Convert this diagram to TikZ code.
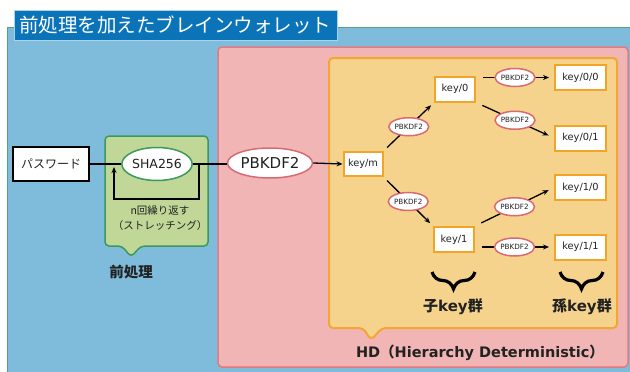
\documentclass[tikz,border=0pt]{standalone}
\usepackage{fontspec}
\setmainfont{DejaVu Sans}
\newfontfamily\cjk{Noto Sans CJK JP}
\usetikzlibrary{shapes.geometric,arrows.meta,decorations.pathreplacing}
\definecolor{bluefill}{HTML}{7FBCDC}
\definecolor{blueborder}{HTML}{5A9F7C}
\definecolor{titlefill}{HTML}{0B74B8}
\definecolor{titleborder}{HTML}{A8D4E8}
\definecolor{pinkfill}{HTML}{F2B5B5}
\definecolor{pinkborder}{HTML}{E37A80}
\definecolor{orangefill}{HTML}{F6D38D}
\definecolor{orangeborder}{HTML}{F1A732}
\definecolor{greenfill}{HTML}{C0D797}
\definecolor{greenborder}{HTML}{3A9A5C}
\definecolor{pbborder}{HTML}{DA6A72}
\definecolor{keyborder}{HTML}{F0A526}
\definecolor{txt}{HTML}{222222}
\newcommand\fsz[1]{\fontsize{#1pt}{#1pt}\selectfont}
\begin{document}
\begin{tikzpicture}[x=1pt,y=-1pt,
  bluepanel/.style={fill=bluefill,draw=blueborder,line width=1pt},
  pinkpanel/.style={fill=pinkfill,draw=pinkborder,line width=1.5pt,rounded corners=4pt},
  orangepanel/.style={fill=orangefill,draw=orangeborder,line width=2pt,rounded corners=4pt},
  greenpanel/.style={fill=greenfill,draw=greenborder,line width=1.5pt,rounded corners=4pt},
  titlebox/.style={fill=titlefill,draw=titleborder,line width=0.8pt,text=white,minimum width=323pt,minimum height=30pt,inner sep=0pt,font=\cjk\fsz{19.5}},
  pwbox/.style={draw=black,line width=1.5pt,fill=white,minimum width=76pt,minimum height=34pt,inner sep=0pt,font=\cjk\fsz{12},text=txt},
  shaell/.style={ellipse,draw=greenborder,line width=1.5pt,fill=white,minimum width=66pt,minimum height=33pt,inner sep=0pt,font=\fsz{12.5},text=txt},
  pbbig/.style={ellipse,draw=pbborder,line width=1.5pt,fill=white,minimum width=85pt,minimum height=30pt,inner sep=0pt,font=\fsz{15},text=txt},
  pbsmall/.style={ellipse,draw=pbborder,line width=1.5pt,fill=white,minimum width=38pt,minimum height=18pt,inner sep=0pt,font=\fsz{7.2},text=txt},
  keybox/.style={draw=keyborder,line width=2pt,fill=white,minimum height=25pt,inner sep=0pt,font=\fsz{9.8},text=txt},
  arr/.style={line width=1.3pt,-{Stealth[length=6pt,width=5pt]}},
  plain/.style={line width=1.3pt},
  bracestyle/.style={line width=3.2pt,decorate,decoration={brace,mirror,amplitude=17pt}},
  lbl/.style={inner sep=0pt,text=txt}]
\useasboundingbox (0,0) rectangle (630,372);
\clip (0,0) rectangle (630,372);
\fill[white] (0,0) rectangle (630,372);
% panels
\draw[bluepanel] (7,27) rectangle (650,390);
\node[titlebox] (title) at (175.5,25) {前処理を加えたブレインウォレット};
\draw[pinkpanel] (218,47) rectangle (628,367);
\draw[orangepanel] (329,58) -- (617,58) -- (617,328) -- (382,328) -- (371,340) -- (363,328) -- (329,328) -- cycle;
\draw[greenpanel] (105,136) -- (208,136) -- (208,246) -- (141,246) -- (131,257) -- (122,246) -- (105,246) -- cycle;
% left nodes
\node[pwbox] (pw) at (51,164) {パスワード};
\node[shaell] (sha) at (157,164) {SHA256};
\node[pbbig] (pbk) at (270,163) {PBKDF2};
\node[lbl,font=\cjk\fsz{10.5}] (rep) at (160,210) {n回繰り返す};
\node[lbl,font=\cjk\fsz{10.5}] (str) at (160,226) {（ストレッチング）};
\node[lbl,font=\cjk\bfseries\fsz{14.5}] (pre) at (131,272) {前処理};
% loop
\coordinate (loopR) at (199,199);
\coordinate (loopL) at (114,199);
\coordinate (loopEnd) at (114,167);
\draw[plain] (pw.east) -- (sha.west);
\draw[plain] (sha.east) -- (pbk.west |- sha.east);
\draw[arr] (sha.east) -| (loopR) -- (loopL) -- (loopEnd);
% key nodes
\node[keybox,minimum width=39pt,minimum height=24pt] (km) at (363,164) {key/m};
\node[keybox,minimum width=40pt] (k0) at (455,89) {key/0};
\node[keybox,minimum width=40pt] (k1) at (454,239.5) {key/1};
\node[keybox,minimum width=51pt] (k00) at (580.5,77.5) {key/0/0};
\node[keybox,minimum width=51pt] (k01) at (580.5,138) {key/0/1};
\node[keybox,minimum width=51pt] (k10) at (580.5,187.5) {key/1/0};
\node[keybox,minimum width=51pt] (k11) at (580.5,247) {key/1/1};
\draw[arr] (pbk.east) -- (km.west);
% connectors
\draw[arr,shorten <=5pt,shorten >=4pt] (km.north east) -- (k0.south west) node[pbsmall,midway] (p1) {PBKDF2};
\draw[arr,shorten <=5pt,shorten >=4pt] (km.south east) -- (k1.north west) node[pbsmall,midway] (p2) {PBKDF2};
\draw[arr,shorten <=7pt,shorten >=5pt] (k0.east |- k00.west) -- (k00.west) node[pbsmall,midway] (p3) {PBKDF2};
\draw[arr,shorten <=7pt,shorten >=6pt] (k0.south east) -- (k01.west) node[pbsmall,midway] (p4) {PBKDF2};
\draw[arr,shorten <=7pt,shorten >=6pt] (k1.north east) -- (k10.west) node[pbsmall,midway] (p5) {PBKDF2};
\draw[arr,shorten <=7pt,shorten >=5pt] (k1.east |- k11.west) -- (k11.west) node[pbsmall,midway] (p6) {PBKDF2};
% braces
\coordinate (b1a) at (432,272);
\coordinate (b1b) at (475,272);
\coordinate (b2a) at (560,272);
\coordinate (b2b) at (603,272);
\draw[bracestyle] (b1a) -- (b1b);
\draw[bracestyle] (b2a) -- (b2b);
\node[lbl,font=\bfseries\fsz{15}] (child) at (453,307) {{\cjk 子}key{\cjk 群}};
\node[lbl,font=\bfseries\fsz{15}] (grand) at (582,307) {{\cjk 孫}key{\cjk 群}};
\node[lbl,font=\bfseries\fsz{14.5}] (hd) at (480,353) {HD{\cjk （}Hierarchy Deterministic{\cjk ）}};
\end{tikzpicture}
\end{document}
